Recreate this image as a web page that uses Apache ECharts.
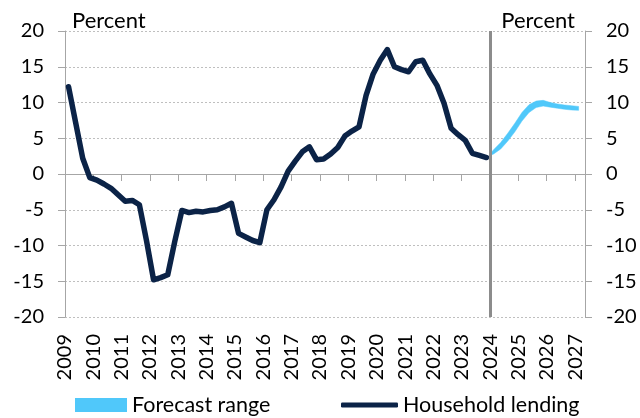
<!DOCTYPE html>
<html>
<head>
<meta charset="utf-8">
<script src="https://cdn.jsdelivr.net/npm/echarts@6/dist/echarts.min.js"></script>
<style>
html,body{margin:0;padding:0;background:#fff;}
#chart{width:640px;height:418px;}
</style>
</head>
<body>
<div id="chart"></div>
<script>
// ---- data ----
var yearTicks = [2009,2010,2011,2012,2013,2014,2015,2016,2017,2018,2019,2020,2021,2022,2023,2024,2025,2026,2027];
var histStartYear = 2009; // quarterly, Q1 2009 .. Q4 2023
var householdLending = [
  12.2, 7.2, 2.2, -0.5,
  -0.85, -1.4, -2.0, -2.9,
  -3.8, -3.7, -4.3, -9.3,
  -14.8, -14.5, -14.1, -9.4,
  -5.1, -5.4, -5.2, -5.3,
  -5.1, -5.0, -4.6, -4.1,
  -8.3, -8.8, -9.3, -9.6,
  -5.0, -3.6, -1.8, 0.4,
  1.8, 3.1, 3.8, 2.0,
  2.1, 2.8, 3.7, 5.3,
  6.0, 6.6, 11.0, 14.0,
  15.9, 17.4, 15.0, 14.6,
  14.3, 15.7, 15.9, 14.0,
  12.4, 9.9, 6.4, 5.5,
  4.7, 2.9, 2.6, 2.3
];
var forecastX = [2024.0, 2024.125, 2024.375, 2024.625, 2024.875, 2025.125, 2025.375, 2025.625, 2025.875, 2026.125, 2026.375, 2026.625, 2026.875, 2027.125];
var forecastLower = [2.6, 2.8, 3.5, 4.6, 5.9, 7.4, 8.6, 9.3, 9.5, 9.35, 9.2, 9.05, 8.95, 8.9];
var forecastUpper = [2.8, 3.4, 4.4, 5.7, 7.1, 8.6, 9.7, 10.2, 10.3, 10.0, 9.8, 9.65, 9.55, 9.45];
var forecastStartYear = 2024;
var yTicks = [-20,-15,-10,-5,0,5,10,15,20];

// ---- build ----
var histData = householdLending.map(function(v, i){ return [histStartYear + (i + 0.5) / 4, v]; });
var bandData = forecastX.map(function(x, i){ return [x, forecastLower[i], forecastUpper[i]]; });

var FONT = 'Lato';
var TXT = '#000000';
var BAND = '#50C8FA';
var LINE = '#0B2347';
var xMin = yearTicks[0], xMax = 2027.35;

function renderBand(params, api) {
  if (params.dataIndex !== 0) return null;
  var top = [], bottom = [];
  for (var i = 0; i < bandData.length; i++) {
    top.push(api.coord([bandData[i][0], bandData[i][2]]));
    bottom.push(api.coord([bandData[i][0], bandData[i][1]]));
  }
  var pts = top.concat(bottom.reverse());
  return {
    type: 'polygon',
    shape: {points: pts},
    style: {fill: BAND, stroke: BAND, lineWidth: 0.5}
  };
}

var chart = echarts.init(document.getElementById('chart'), null, {renderer: 'canvas'});
chart.setOption({
  animation: false,
  backgroundColor: '#ffffff',
  textStyle: {fontFamily: FONT},
  grid: {left: 65, right: 55, top: 31, bottom: 101, containLabel: false},
  xAxis: [{
    type: 'value', min: xMin, max: xMax, interval: 1, position: 'bottom',
    axisLine: {show: false}, axisTick: {show: false}, splitLine: {show: false},
    axisLabel: {
      rotate: 90, margin: 17, fontFamily: FONT, fontSize: 20, color: TXT,
      padding: [9, 0, 0, 0],
      showMaxLabel: false,
      formatter: function(v){ return (Math.abs(v - Math.round(v)) < 1e-6 && yearTicks.indexOf(Math.round(v)) >= 0) ? String(Math.round(v)) : ''; }
    }
  }, {
    type: 'value', min: xMin, max: xMax, interval: 1, position: 'top',
    axisLine: {show: true, onZero: true, lineStyle: {color: '#A6A6A6', width: 1}},
    axisTick: {show: true, inside: true, length: 7, lineStyle: {color: '#A6A6A6', width: 1}},
    axisLabel: {show: false}, splitLine: {show: false}
  }],
  yAxis: [{
    type: 'value', min: yTicks[0], max: yTicks[yTicks.length-1], interval: 5, position: 'left',
    axisLine: {show: true, onZero: false, lineStyle: {color: '#A6A6A6', width: 1}},
    axisTick: {show: true, length: 7, lineStyle: {color: '#A6A6A6'}},
    axisLabel: {margin: 21, fontFamily: FONT, fontSize: 20, color: TXT},
    splitLine: {show: true, lineStyle: {color: '#BFBFBF', type: [2, 2], width: 1}}
  }, {
    type: 'value', min: yTicks[0], max: yTicks[yTicks.length-1], interval: 5, position: 'right',
    axisLine: {show: true, onZero: false, lineStyle: {color: '#A6A6A6', width: 1}},
    axisTick: {show: true, length: 7, lineStyle: {color: '#A6A6A6'}},
    axisLabel: {margin: 21, fontFamily: FONT, fontSize: 20, color: TXT},
    splitLine: {show: false}
  }],
  legend: [{
    left: 75, top: 394, padding: 0, itemWidth: 52, itemHeight: 14, itemGap: 0,
    textStyle: {fontFamily: FONT, fontSize: 21.5, color: TXT},
    data: [{name: 'Forecast range', icon: 'rect', itemStyle: {color: BAND}}], selectedMode: false
  }, {
    left: 341, top: 394, padding: 0, itemWidth: 57, itemHeight: 5, itemGap: 0,
    textStyle: {fontFamily: FONT, fontSize: 21.5, color: TXT},
    data: [{name: 'Household lending', icon: 'roundRect', itemStyle: {color: LINE}}], selectedMode: false
  }],
  graphic: [
    {type: 'text', left: 72, top: 10, style: {text: 'Percent', font: '22px Lato', fill: TXT}},
    {type: 'text', right: 65, top: 10, style: {text: 'Percent', font: '22px Lato', fill: TXT}}
  ],
  series: [{
    name: 'Forecast range', type: 'custom', data: bandData,
    encode: {x: 0, y: [1, 2]},
    renderItem: renderBand, itemStyle: {color: BAND}, z: 2, silent: true
  }, {
    name: 'Household lending', type: 'line', data: histData,
    symbol: 'none', lineStyle: {color: LINE, width: 5.5, cap: 'round', join: 'round'},
    itemStyle: {color: LINE}, z: 3,
    markLine: {
      silent: true, symbol: ['none','none'], label: {show: false},
      lineStyle: {color: '#8C8C8C', width: 3, type: 'solid'},
      data: [{xAxis: forecastStartYear}]
    }
  }]
});
</script>
</body>
</html>
